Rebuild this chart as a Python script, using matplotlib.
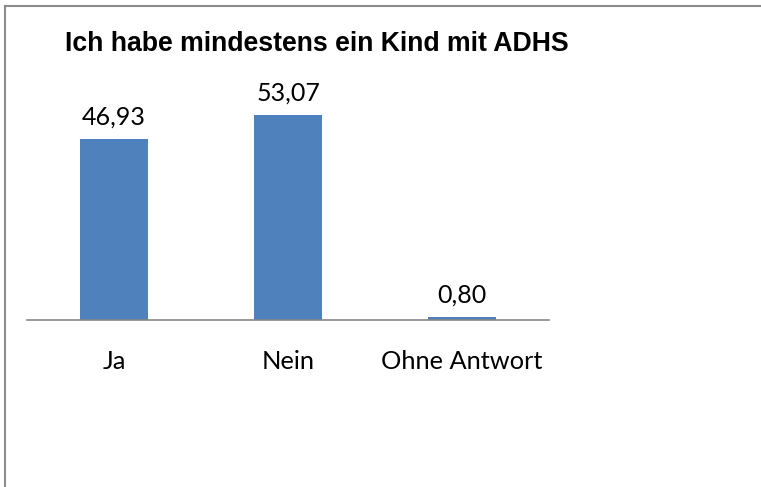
import matplotlib.pyplot as plt
from matplotlib.lines import Line2D

categories = ['Ja', 'Nein', 'Ohne Antwort']
values = [46.93, 53.07, 0.80]
value_labels = ['46,93', '53,07', '0,80']

bar_color = '#4F81BD'
W, H = 761, 487

fig = plt.figure(figsize=(W / 100, H / 100), dpi=100)
fig.patch.set_facecolor('white')

# plot area: baseline at y=320 px, 174 px per category
ax = fig.add_axes([27 / W, (H - 320) / H, 522 / W, 232 / H])
x = range(len(categories))
ax.bar(x, values, width=0.39, color=bar_color, zorder=2)
ax.set_xlim(-0.5, 2.5)
ax.set_ylim(0, 60)

for xi, v, lab in zip(x, values, value_labels):
    ax.annotate(lab, (xi, v), xytext=(0, 7.5), textcoords='offset points',
                ha='center', va='bottom', fontsize=18, family='Lato')

ax.set_xticks(list(x))
ax.set_xticklabels(categories, fontsize=18.3, family='Lato')
ax.tick_params(axis='x', length=0, pad=21.5)
ax.set_yticks([])
for s in ['top', 'right', 'left']:
    ax.spines[s].set_visible(False)
ax.spines['bottom'].set_color('#868686')
ax.spines['bottom'].set_linewidth(1.2)
ax.patch.set_alpha(0)

fig.text(65 / W, 1 - 44 / H, 'Ich habe mindestens ein Kind mit ADHS',
         fontsize=19.2, fontweight='bold', family='Liberation Sans',
         ha='left', va='center')

# chart frame: only top and left edges fall inside the picture
fig.add_artist(Line2D([4.5 / W, 4.5 / W], [0, 1 - 5.5 / H], color='#8c8c8c', lw=1.5))
fig.add_artist(Line2D([4.5 / W, 1], [1 - 5.5 / H, 1 - 5.5 / H], color='#8c8c8c', lw=1.5))

fig.savefig('out.png', dpi=100)
